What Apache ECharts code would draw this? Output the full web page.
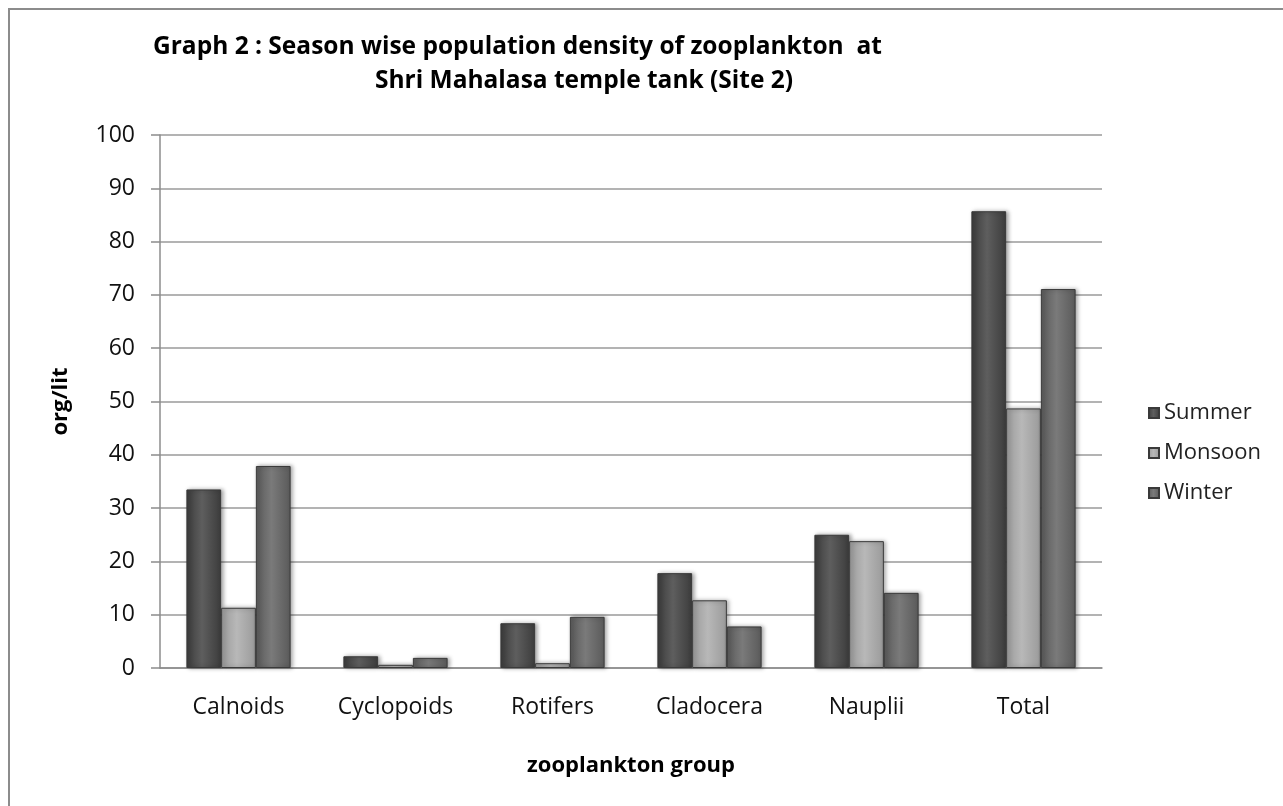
<!DOCTYPE html>
<html>
<head>
<meta charset="utf-8">
<script src="https://cdn.jsdelivr.net/npm/echarts@6/dist/echarts.min.js"></script>
<style>
    html, body { margin: 0; padding: 0; background: #fff; }
    #chart { width: 1283px; height: 806px; }
</style>
</head>
<body>
<div id="chart"></div>
<script>
// data
const groups = ['Calnoids', 'Cyclopoids', 'Rotifers', 'Cladocera', 'Nauplii', 'Total'];
const seasons = ['Summer', 'Monsoon', 'Winter'];
const summer = [33.5, 2.2, 8.4, 17.8, 25.0, 85.7];
const monsoon = [11.3, 0.6, 0.9, 12.7, 23.8, 48.7];
const winter = [37.9, 1.9, 9.6, 7.8, 14.1, 71.1];

const font = '"Open Sans", "Noto Sans", sans-serif';

// horizontal gradient for the shaded bar look
function shade(edge, mid) {
    return new echarts.graphic.LinearGradient(0, 0, 1, 0, [
        { offset: 0, color: edge },
        { offset: 0.45, color: mid },
        { offset: 1, color: edge }
    ]);
}

function barSeries(name, data, edge, mid) {
    return {
        name: name,
        type: 'bar',
        data: data,
        barGap: '0%',
        barCategoryGap: '33.6%',
        itemStyle: {
            color: shade(edge, mid),
            borderColor: '#3a3a3a',
            borderWidth: 1,
            shadowColor: 'rgba(0,0,0,0.35)',
            shadowBlur: 4,
            shadowOffsetX: 2
        }
    };
}

let myChart = echarts.init(document.getElementById('chart'));

let option = {
    backgroundColor: '#fff',
    animation: false,
    graphic: [{
        type: 'rect',
        shape: { x: 9, y: 9, width: 1300, height: 820 },
        style: { fill: 'none', stroke: '#8c8c8c', lineWidth: 2 },
        silent: true
    }],
    title: [{
        text: 'Graph 2 : Season wise population density of zooplankton  at',
        left: 148,
        top: 30,
        textStyle: { fontFamily: font, fontSize: 24.5, fontWeight: 'bold', color: '#000' }
    }, {
        text: 'Shri Mahalasa temple tank (Site 2)',
        left: 370,
        top: 64,
        textStyle: { fontFamily: font, fontSize: 24.5, fontWeight: 'bold', color: '#000' }
    }],
    legend: {
        orient: 'vertical',
        left: 1143,
        top: 397,
        itemGap: 18,
        itemWidth: 10,
        itemHeight: 10,
        icon: 'rect',
        data: seasons,
        textStyle: { fontFamily: font, fontSize: 22, color: '#222' }
    },
    grid: { left: 160, right: 181, top: 135, bottom: 138 },
    xAxis: {
        type: 'category',
        data: groups,
        name: 'zooplankton group',
        nameLocation: 'middle',
        nameGap: 87,
        nameTextStyle: { fontFamily: font, fontSize: 22, fontWeight: 'bold', color: '#000' },
        axisLine: { lineStyle: { color: '#8c8c8c', width: 1.5 } },
        axisTick: { show: false },
        axisLabel: { fontFamily: font, fontSize: 23, color: '#111', margin: 28 }
    },
    yAxis: {
        type: 'value',
        min: 0,
        max: 100,
        interval: 10,
        name: 'org/lit',
        nameLocation: 'middle',
        nameGap: 88,
        nameRotate: 90,
        nameTextStyle: { fontFamily: font, fontSize: 22, fontWeight: 'bold', color: '#000' },
        axisLine: { show: true, lineStyle: { color: '#8c8c8c', width: 1.5 } },
        axisTick: { show: true, length: 9, lineStyle: { color: '#8c8c8c', width: 1.5 } },
        axisLabel: { fontFamily: font, fontSize: 23, color: '#111', margin: 25 },
        splitLine: { lineStyle: { color: '#9a9a9a', width: 1.5 } }
    },
    series: [
        barSeries('Summer', summer, '#3c3c3c', '#5e5e5e'),
        barSeries('Monsoon', monsoon, '#9a9a9a', '#b8b8b8'),
        barSeries('Winter', winter, '#5a5a5a', '#7a7a7a')
    ]
};

myChart.setOption(option);
</script>
</body>
</html>
